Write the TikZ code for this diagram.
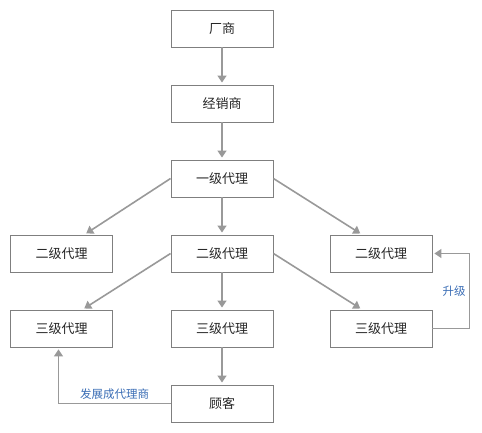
\documentclass[tikz,border=0pt]{standalone}
\usepackage{fontspec}
\setmainfont{Noto Sans CJK SC}
\usetikzlibrary{arrows.meta}
\definecolor{boxgray}{HTML}{7F7F7F}
\definecolor{linegray}{HTML}{999999}
\definecolor{labelblue}{HTML}{3A6DB5}
\begin{document}
\begin{tikzpicture}[x=1pt,y=-1pt,
        agent/.style={draw=boxgray,line width=0.9pt,minimum width=102pt,minimum height=37pt,inner sep=0pt,
            font=\fontsize{13pt}{15pt}\selectfont,text=black!85},
        flow/.style={draw=linegray,line width=1.6pt,-{Triangle[width=9pt,length=7pt]},shorten >=2pt},
        note/.style={font=\fontsize{11.5pt}{13pt}\selectfont,text=labelblue}]
        \useasboundingbox (0,0) rectangle (482,433);

        \node (cs) at (222,28.5) [agent] {厂商};
        \node (jxs) at (222,103.5) [agent] {经销商};
        \node (yj) at (222,178.5) [agent] {一级代理};
        \node (ej1) at (61.5,253.5) [agent] {二级代理};
        \node (ej2) at (222,253.5) [agent] {二级代理};
        \node (ej3) at (381,253.5) [agent] {二级代理};
        \node (sj1) at (61.5,328.5) [agent] {三级代理};
        \node (sj2) at (222,328.5) [agent] {三级代理};
        \node (sj3) at (381,328.5) [agent] {三级代理};
        \node (gk) at (222,403.5) [agent] {顾客};

        \draw[flow] (cs) -- (jxs);
        \draw[flow] (jxs) -- (yj);
        \draw[flow] (yj) -- (ej2);
        \draw[flow] (yj.west) -- ([xshift=23pt]ej1.north);
        \draw[flow] (yj.east) -- ([xshift=-19pt]ej3.north);
        \draw[flow] (ej2) -- (sj2);
        \draw[flow] (ej2.west) -- ([xshift=21pt]sj1.north);
        \draw[flow] (ej2.east) -- ([xshift=-19pt]sj3.north);
        \draw[flow] (sj2) -- (gk);

        \draw[flow,line width=1.1pt] (sj3.east) -- ++(37,0) |- node[pos=0.25,left,note] {升级} (ej3.east);
        \draw[flow,line width=1.1pt] (gk.west) -| node[pos=0.25,above,note] {发展成代理商} ([xshift=-3pt]sj1.south);
    \end{tikzpicture}
\end{document}
